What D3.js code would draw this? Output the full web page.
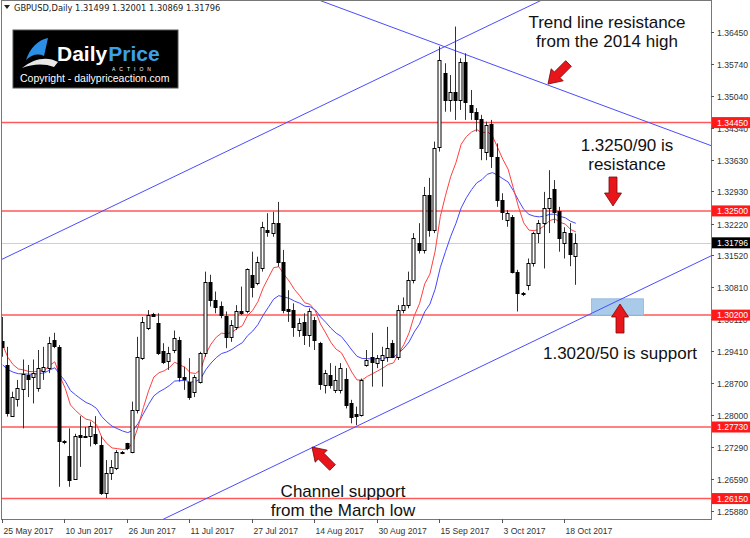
<!DOCTYPE html>
<html><head><meta charset="utf-8">
<script src="https://cdn.jsdelivr.net/npm/d3@7"></script>
<style>
html,body{margin:0;padding:0;background:#fff;}
svg{display:block;font-family:"Liberation Sans",Arial,sans-serif;}
</style></head><body>
<svg id="chart" width="750" height="538"></svg>
<script>
// ---------------- DATA ----------------
const symbolTitle = "GBPUSD,Daily";
const lastOHLC = ["1.31499", "1.32001", "1.30869", "1.31796"];

const opens = [1.2963,1.2910,1.2797,1.2834,1.2857,1.2888,1.2884,1.2858,1.2897,1.2903,
1.2965,1.2950,1.2742,1.2709,1.2658,1.2755,1.2754,1.2753,1.2758,1.2733,
1.2627,1.2671,1.2682,1.2718,1.2737,1.2717,1.2811,1.2925,1.2991,1.3022,
1.3003,1.2941,1.2919,1.2943,1.2965,1.2884,1.2873,1.2851,1.2873,1.2936,
1.3092,1.3053,1.3040,1.3018,1.2972,1.2994,1.3029,1.3028,1.3109,1.3091,
1.3123,1.3208,1.3201,1.3223,1.3137,1.3033,1.3031,1.2987,1.3005,1.2976,
1.3009,1.2958,1.2866,1.2888,1.2855,1.2855,1.2880,1.2825,1.2802,1.2800,
1.2910,1.2928,1.2914,1.2921,1.2928,1.2958,1.2928,1.3031,1.3042,1.3098,
1.3179,1.3164,1.3285,1.3208,1.3392,1.3554,1.3495,1.3513,1.3495,1.3579,
1.3484,1.3469,1.3454,1.3381,1.3442,1.3370,1.3274,1.3230,1.3237,1.3116,
1.3069,1.3086,1.3134,1.3201,1.3223,1.3256,1.3298,1.3250,1.3179,1.3202,
1.31499];
const highs = [1.3016,1.2950,1.2851,1.2877,1.2922,1.2910,1.2922,1.2943,1.2950,1.2972,
1.2981,1.2954,1.2744,1.2770,1.2758,1.2797,1.2773,1.2785,1.2797,1.2752,
1.2700,1.2700,1.2722,1.2720,1.2738,1.2829,1.2972,1.3016,1.3031,1.3025,
1.3024,1.2958,1.2950,1.2986,1.2972,1.2906,1.2925,1.2888,1.2939,1.3116,
1.3109,1.3072,1.3050,1.3028,1.3009,1.3042,1.3083,1.3123,1.3160,1.3149,
1.3226,1.3245,1.3248,1.3270,1.3164,1.3075,1.3046,1.3013,1.3024,1.3035,
1.3016,1.2961,1.2899,1.2914,1.2908,1.2914,1.2903,1.2833,1.2818,1.2880,
1.2943,1.2981,1.2932,1.2950,1.2994,1.2965,1.3042,1.3059,1.3116,1.3201,
1.3223,1.3303,1.3323,1.3403,1.3613,1.3576,1.3550,1.3657,1.3587,1.3598,
1.3517,1.3477,1.3462,1.3447,1.3451,1.3399,1.3289,1.3252,1.3241,1.3120,
1.3071,1.3145,1.3204,1.3230,1.3292,1.3340,1.3318,1.3259,1.3214,1.3223,
1.32001];
const lows = [1.2928,1.2796,1.2796,1.2818,1.2770,1.2839,1.2825,1.2851,1.2877,1.2892,
1.2947,1.2641,1.2735,1.2641,1.2656,1.2685,1.2752,1.2730,1.2733,1.2623,
1.2616,1.2656,1.2678,1.2713,1.2722,1.2715,1.2803,1.2921,1.2987,1.3018,
1.2932,1.2912,1.2899,1.2936,1.2873,1.2855,1.2833,1.2839,1.2869,1.2928,
1.3039,1.3024,1.3013,1.2947,1.2961,1.2987,1.3020,1.3024,1.3059,1.3086,
1.3116,1.3193,1.3193,1.3127,1.3024,1.3005,1.2972,1.2972,1.2954,1.2950,
1.2943,1.2855,1.2847,1.2858,1.2848,1.2847,1.2814,1.2781,1.2777,1.2796,
1.2906,1.2862,1.2903,1.2862,1.2917,1.2925,1.2921,1.3024,1.3035,1.3090,
1.3156,1.3156,1.3193,1.3201,1.3381,1.3469,1.3469,1.3451,1.3473,1.3451,
1.3451,1.3425,1.3362,1.3362,1.3345,1.3259,1.3230,1.3215,1.3112,1.3028,
1.3062,1.3075,1.3127,1.3179,1.3123,1.3201,1.3223,1.3160,1.3145,1.3128,
1.30869];
const closes = [1.2950,1.2803,1.2839,1.2858,1.2890,1.2880,1.2892,1.2903,1.2905,1.2959,
1.2952,1.2741,1.2739,1.2657,1.2753,1.2752,1.2752,1.2775,1.2737,1.2627,
1.2671,1.2684,1.2718,1.2716,1.2726,1.2811,1.2927,1.3005,1.3020,1.3019,
1.2936,1.2917,1.2936,1.2969,1.2884,1.2880,1.2839,1.2884,1.2936,1.3094,
1.3053,1.3039,1.3020,1.2972,1.2998,1.3028,1.3024,1.3121,1.3083,1.3137,
1.3215,1.3204,1.3224,1.3137,1.3031,1.3029,1.2994,1.3002,1.2976,1.3028,
1.2965,1.2869,1.2892,1.2866,1.2877,1.2903,1.2822,1.2796,1.2798,1.2877,
1.2921,1.2917,1.2925,1.2932,1.2947,1.2928,1.3031,1.3042,1.3098,1.3190,
1.3164,1.3285,1.3208,1.3388,1.3583,1.3495,1.3513,1.3495,1.3579,1.3491,
1.3469,1.3454,1.3388,1.3440,1.3371,1.3274,1.3248,1.3245,1.3116,1.3068,
1.3066,1.3135,1.3201,1.3223,1.3256,1.3278,1.3248,1.3190,1.3204,1.3156,
1.31796];

const dateLabels = ["25 May 2017","10 Jun 2017","26 Jun 2017","11 Jul 2017","27 Jul 2017",
  "14 Aug 2017","30 Aug 2017","15 Sep 2017","3 Oct 2017","18 Oct 2017"];
const dateLabelBar = [0,12,24,36,48,60,72,84,96,108];

const priceTicks = [1.36450,1.35740,1.35040,1.34340,1.33630,1.32930,1.32220,1.31520,
  1.30810,1.30110,1.29410,1.28700,1.28000,1.27290,1.26590,1.25880];

const levelPrices = [1.34450,1.32500,1.30200,1.27730,1.26150];
const currentPrice = 1.31796;

const emaFastPeriod = 10, emaSlowPeriod = 20;
const emaFastSeed = 1.2954, emaSlowSeed = 1.2910;

// trend lines: two anchor points each (bar index, price)
const channelUpper = [[0, 1.3144], [84, 1.3608]];
const channelLower = [[68, 1.2775], [136, 1.3151]];
const resistanceLine = [[84, 1.3616], [136, 1.3394]];

const supportZone = [[113, 1.3056], [123, 1.3020]];

const notes = [
  {lines:["Trend line resistance","from the 2014 high"], x:607, y:28},
  {lines:["1.3250/90 is","resistance"], x:627, y:151},
  {lines:["1.3020/50 is support"], x:620, y:359},
  {lines:["Channel support","from the March low"], x:343, y:497}
];
const arrows = [
  {x:548, y:84, a:-135},
  {x:613, y:206, a:180},
  {x:620, y:304, a:0},
  {x:312, y:447, a:-45}
];

// ---------------- LAYOUT ----------------
const W = 750, H = 538;
const plot = {left:2, right:711, top:1, bottom:519};
const svg = d3.select("#chart");

const x = d3.scaleLinear().domain([0, 110]).range([2.7, 575.8]);
const y = d3.scaleLinear().domain([1.25880, 1.36450]).range([510.8, 32.0]);

svg.append("rect").attr("width",W).attr("height",H).attr("fill","#fff");

svg.append("defs").append("clipPath").attr("id","clip")
  .append("rect").attr("x",plot.left).attr("y",plot.top)
  .attr("width",plot.right-plot.left).attr("height",plot.bottom-plot.top);

const g = svg.append("g").attr("clip-path","url(#clip)");

// horizontal levels
g.append("line").attr("x1",plot.left).attr("x2",plot.right)
  .attr("y1",Math.round(y(currentPrice))+0.5).attr("y2",Math.round(y(currentPrice))+0.5)
  .attr("stroke","#cfcfcf").attr("stroke-width",1);
g.selectAll("line.lvl").data(levelPrices).join("line").attr("class","lvl")
  .attr("x1",plot.left).attr("x2",plot.right)
  .attr("y1",d=>y(d)).attr("y2",d=>y(d))
  .attr("stroke","#ff3030").attr("stroke-opacity",0.8).attr("stroke-width",1.5);

// support zone
g.append("rect")
  .attr("x",x(supportZone[0][0])).attr("y",y(supportZone[0][1]))
  .attr("width",x(supportZone[1][0])-x(supportZone[0][0]))
  .attr("height",y(supportZone[1][1])-y(supportZone[0][1]))
  .attr("fill","#a9cbe9").attr("stroke","#8fb6dc").attr("stroke-width",0.8);

// trend lines extended across the plot
function extLine(pts){
  const [a,b] = pts;
  const s = (b[1]-a[1])/(b[0]-a[0]);
  const i0 = -5, i1 = 145;
  return [[x(i0), y(a[1]+s*(i0-a[0]))],[x(i1), y(a[1]+s*(i1-a[0]))]];
}
[channelUpper, channelLower, resistanceLine].forEach(l=>{
  const p = extLine(l);
  g.append("line").attr("x1",p[0][0]).attr("y1",p[0][1]).attr("x2",p[1][0]).attr("y2",p[1][1])
    .attr("stroke","#4b4bff").attr("stroke-width",1);
});

// EMAs
function ema(values, period, seed){
  const k = 2/(period+1); const out = [];
  let e = seed;
  values.forEach((v,i)=>{ if(i>0) e = e + k*(v-e); out.push(e); });
  return out;
}
const idx = d3.range(closes.length);
const fast = ema(closes, emaFastPeriod, emaFastSeed);
const slow = ema(closes, emaSlowPeriod, emaSlowSeed);
const lineGen = d3.line().x((d,i)=>x(i)).y(d=>y(d));
g.append("path").attr("d",lineGen(slow)).attr("fill","none").attr("stroke","#4646ff").attr("stroke-width",1);
g.append("path").attr("d",lineGen(fast)).attr("fill","none").attr("stroke","#ff4040").attr("stroke-width",1);

// candles
const cg = g.append("g");
idx.forEach(i=>{
  const cx = Math.round(x(i));
  const o = opens[i], c = closes[i];
  cg.append("line").attr("x1",cx-0.5).attr("x2",cx-0.5)
    .attr("y1",y(highs[i])).attr("y2",y(lows[i]))
    .attr("stroke","#333").attr("stroke-width",1);
  const top = Math.round(y(Math.max(o,c))), bot = Math.round(y(Math.min(o,c)));
  const h = Math.max(0, bot-top);
  const up = c > o;
  if (h < 1) {
    cg.append("line").attr("x1",cx-2).attr("x2",cx+2).attr("y1",top+0.5).attr("y2",top+0.5)
      .attr("stroke","#000").attr("stroke-width",1.5);
  } else {
    cg.append("rect").attr("x",cx-2).attr("y",top+0.5).attr("width",3).attr("height",h)
      .attr("fill", up ? "#fff" : "#000").attr("stroke","#000").attr("stroke-width",1);
  }
});

// annotations
const ng = svg.append("g");
notes.forEach(n=>{
  n.lines.forEach((t,j)=>{
    ng.append("text").attr("x",n.x).attr("y",n.y+j*19).attr("text-anchor","middle")
      .attr("font-size",17).attr("fill","#111").text(t);
  });
});
arrows.forEach(a=>{
  ng.append("path")
    .attr("d","M0,0 L8.5,13 L4,13 L4,29 L-4,29 L-4,13 L-8.5,13 Z")
    .attr("transform",`translate(${a.x},${a.y}) rotate(${a.a})`)
    .attr("fill","#e8161b").attr("stroke","#7a0a0a").attr("stroke-width",0.8);
});

// frame
svg.append("rect").attr("x",plot.left-0.5).attr("y",plot.top-0.5)
  .attr("width",plot.right-plot.left+1).attr("height",plot.bottom-plot.top+1)
  .attr("fill","none").attr("stroke","#777");

// right axis
const ra = svg.append("g").attr("font-size",8.6).attr("fill","#333");
priceTicks.forEach(p=>{
  const yy = Math.round(y(p))+0.5;
  ra.append("line").attr("x1",plot.right).attr("x2",plot.right+3).attr("y1",yy).attr("y2",yy).attr("stroke","#555");
  ra.append("text").attr("x",717).attr("y",yy+3).text(p.toFixed(5));
});
levelPrices.forEach(p=>{
  const yy = y(p);
  ra.append("rect").attr("x",plot.right+1).attr("y",yy-5.5).attr("width",W-plot.right-1).attr("height",11).attr("fill","#ff1a1a");
  ra.append("text").attr("x",717).attr("y",yy+3).attr("fill","#fff").text(p.toFixed(5));
});
{
  const yy = y(currentPrice);
  ra.append("rect").attr("x",plot.right+1).attr("y",yy-5.5).attr("width",W-plot.right-1).attr("height",11).attr("fill","#000");
  ra.append("text").attr("x",717).attr("y",yy+3).attr("fill","#fff").text(currentPrice.toFixed(5));
}

// bottom axis
const ba = svg.append("g").attr("font-size",8.6).attr("fill","#333");
dateLabelBar.forEach((b,j)=>{
  const xx = Math.round(x(b))-0.5;
  ba.append("line").attr("x1",xx).attr("x2",xx).attr("y1",plot.bottom).attr("y2",plot.bottom+4).attr("stroke","#555");
  ba.append("text").attr("x",xx+1).attr("y",534).text(dateLabels[j]);
});

// header
svg.append("path").attr("d","M4,5 L10,5 L7,9 Z").attr("fill","#222");
svg.append("text").attr("x",14).attr("y",11).attr("font-size",8.3)
  .attr("font-family","'DejaVu Sans',sans-serif").attr("fill","#222")
  .text(symbolTitle + "  " + lastOHLC.join(" "));

// logo
const lg = svg.append("g");
lg.append("rect").attr("x",13).attr("y",30).attr("width",165).attr("height",58).attr("fill","#000").attr("stroke","#555");
lg.append("path").attr("d","M26,60 C30,48 38,40 48,38 L44,56 C38,53 31,55 26,60 Z").attr("fill","#2b8fe6");
lg.append("path").attr("d","M22,68 C34,58 48,56 58,62 L54,67 C44,63 32,64 22,68 Z").attr("fill","#e8e8e8");
const tDaily = lg.append("text").attr("x",57).attr("y",61).attr("font-size",21).attr("font-weight","bold").attr("fill","#fff").text("Daily");
const dw = tDaily.node().getComputedTextLength();
lg.append("text").attr("x",57+dw+1).attr("y",61).attr("font-size",21).attr("font-weight","bold").attr("fill","#3aa0ea").text("Price");
lg.append("text").attr("x",112).attr("y",70.5).attr("font-size",5).attr("letter-spacing",4).attr("fill","#fff").text("ACTION");
lg.append("text").attr("x",20).attr("y",82).attr("font-size",10.5).attr("fill","#fff").text("Copyright - dailypriceaction.com");
</script>
</body></html>
